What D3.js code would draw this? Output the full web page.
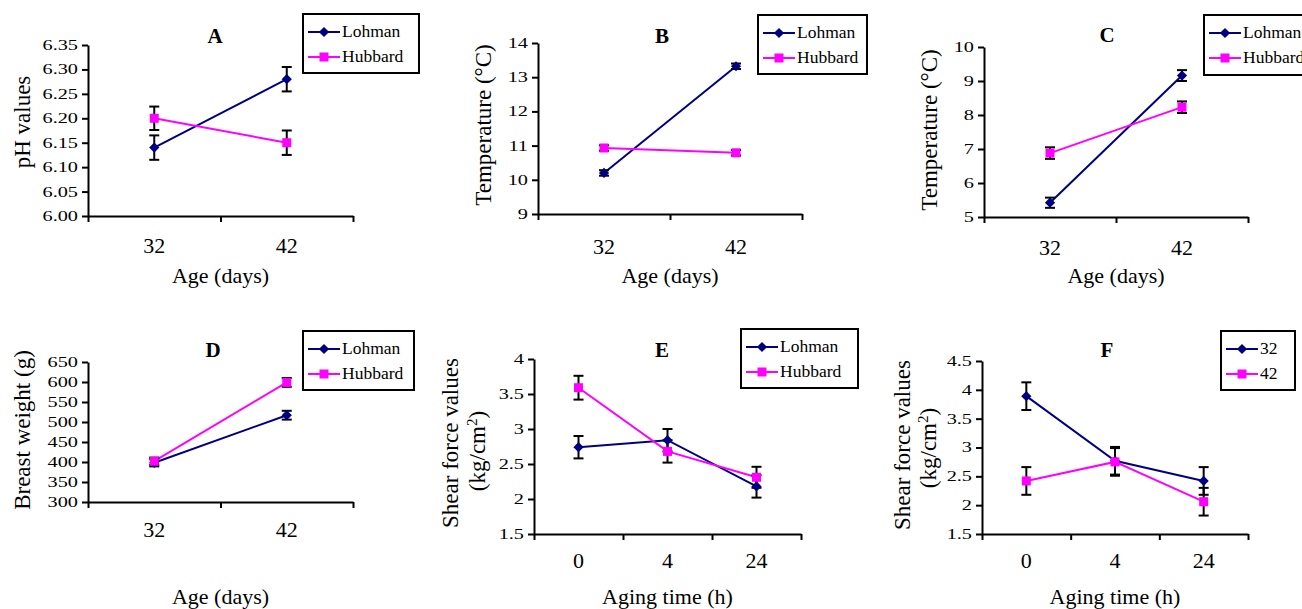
<!DOCTYPE html>
<html>
<head>
<meta charset="utf-8">
<script src="https://d3js.org/d3.v7.min.js"></script>
<style>
  body { margin: 0; background: #fff; }
  svg text { font-family: "Liberation Serif", "Times New Roman", serif; fill: #000; }
</style>
</head>
<body>
<svg id="chart" width="1302" height="609"></svg>
<script>
// categories
var ageDays = ["32", "42"];
var agingHours = ["0", "4", "24"];

// A: pH values
var phTicks = [6.00, 6.05, 6.10, 6.15, 6.20, 6.25, 6.30, 6.35];
var phLohman = [6.14, 6.28];
var phLohmanErr = [0.025, 0.025];
var phHubbard = [6.20, 6.15];
var phHubbardErr = [0.024, 0.025];

// B: temperature
var tempBTicks = [9, 10, 11, 12, 13, 14];
var tempBLohman = [10.20, 13.32];
var tempBLohmanErr = [0.08, 0.08];
var tempBHubbard = [10.93, 10.79];
var tempBHubbardErr = [0.08, 0.08];

// C: temperature
var tempCTicks = [5, 6, 7, 8, 9, 10];
var tempCLohman = [5.42, 9.16];
var tempCLohmanErr = [0.15, 0.16];
var tempCHubbard = [6.88, 8.23];
var tempCHubbardErr = [0.17, 0.17];

// D: breast weight
var weightTicks = [300, 350, 400, 450, 500, 550, 600, 650];
var weightLohman = [398, 517];
var weightLohmanErr = [9, 11];
var weightHubbard = [402, 599];
var weightHubbardErr = [9, 11];

// E: shear force by strain
var shearTicks = [1.5, 2, 2.5, 3, 3.5, 4];
var shearLohman = [2.74, 2.84, 2.18];
var shearLohmanErr = [0.16, 0.16, 0.16];
var shearHubbard = [3.59, 2.68, 2.31];
var shearHubbardErr = [0.17, 0.16, 0.15];

// F: shear force by age
var shearAgeTicks = [1.5, 2, 2.5, 3, 3.5, 4, 4.5];
var shear32 = [3.89, 2.77, 2.42];
var shear32Err = [0.24, 0.24, 0.24];
var shear42 = [2.42, 2.75, 2.06];
var shear42Err = [0.24, 0.24, 0.24];

var NAVY = "#000080";
var MAGENTA = "#ff00ff";
var Y_STRETCH = 1.45;   // tick labels on the value axis are wider than tall

var fmtNum = function (d) { return String(+d.toFixed(2)); };

function pair(nameA, valA, errA, nameB, valB, errB) {
    return [
        { name: nameA, values: valA, errors: errA, color: NAVY, marker: "diamond" },
        { name: nameB, values: valB, errors: errB, color: MAGENTA, marker: "square" }
    ];
}

var panels = [
    { title: "A", cats: ageDays, yTicks: phTicks, yFmt: d3.format(".2f"),
      yLabel: ["pH values"], xLabel: "Age (days)",
      series: pair("Lohman", phLohman, phLohmanErr, "Hubbard", phHubbard, phHubbardErr),
      box: { x0: 88, x1: 353, y0: 45, y1: 216 }, legend: { x: 303, y: 14, w: 116, h: 59 },
      titleAt: [215, 43], xTickY: 37, xTitleY: 283, yLabelAt: [[30, 122]] },
    { title: "B", cats: ageDays, yTicks: tempBTicks, yFmt: fmtNum,
      yLabel: ["Temperature (°C)"], xLabel: "Age (days)",
      series: pair("Lohman", tempBLohman, tempBLohmanErr, "Hubbard", tempBHubbard, tempBHubbardErr),
      box: { x0: 538, x1: 802, y0: 43, y1: 214 }, legend: { x: 758, y: 15, w: 109, h: 59 },
      titleAt: [662, 43], xTickY: 40, xTitleY: 283, yLabelAt: [[491, 125]] },
    { title: "C", cats: ageDays, yTicks: tempCTicks, yFmt: fmtNum,
      yLabel: ["Temperature (°C)"], xLabel: "Age (days)",
      series: pair("Lohman", tempCLohman, tempCLohmanErr, "Hubbard", tempCHubbard, tempCHubbardErr),
      box: { x0: 984, x1: 1248, y0: 47, y1: 217 }, legend: { x: 1204, y: 15, w: 120, h: 60 },
      titleAt: [1107, 42], xTickY: 38, xTitleY: 283, yLabelAt: [[937, 130]] },
    { title: "D", cats: ageDays, yTicks: weightTicks, yFmt: fmtNum,
      yLabel: ["Breast weight (g)"], xLabel: "Age (days)",
      series: pair("Lohman", weightLohman, weightLohmanErr, "Hubbard", weightHubbard, weightHubbardErr),
      box: { x0: 88, x1: 353, y0: 362, y1: 502 }, legend: { x: 303, y: 331, w: 111, h: 59 },
      titleAt: [213, 357], xTickY: 35, xTitleY: 604, yLabelAt: [[30, 430]] },
    { title: "E", cats: agingHours, yTicks: shearTicks, yFmt: fmtNum,
      yLabel: ["Shear force values", "(kg/cm²)"], xLabel: "Aging time (h)",
      series: pair("Lohman", shearLohman, shearLohmanErr, "Hubbard", shearHubbard, shearHubbardErr),
      box: { x0: 534, x1: 801, y0: 359, y1: 534 }, legend: { x: 741, y: 329, w: 117, h: 59 },
      titleAt: [662, 357], xTickY: 34, xTitleY: 604, yLabelAt: [[458, 443], [485, 451]] },
    { title: "F", cats: agingHours, yTicks: shearAgeTicks, yFmt: fmtNum,
      yLabel: ["Shear force values", "(kg/cm²)"], xLabel: "Aging time (h)",
      series: pair("32", shear32, shear32Err, "42", shear42, shear42Err),
      box: { x0: 982, x1: 1248, y0: 361, y1: 534 }, legend: { x: 1221, y: 331, w: 74, h: 59 },
      titleAt: [1107, 357], xTickY: 34, xTitleY: 604, yLabelAt: [[910, 445], [936, 448]] }
];

var svg = d3.select("#chart");

function drawMarker(sel, kind, color) {
    if (kind === "diamond") {
        sel.append("path")
            .attr("d", d3.symbol(d3.symbolSquare, 52)())
            .attr("transform", "rotate(45)")
            .attr("fill", color);
    } else {
        sel.append("path")
            .attr("d", d3.symbol(d3.symbolSquare, 81)())
            .attr("fill", color);
    }
}

function labelText(sel, text) {
    // split a trailing superscript "²" into a raised tspan
    var i = text.indexOf("²");
    if (i < 0) { sel.text(text); return; }
    sel.append("tspan").text(text.slice(0, i));
    sel.append("tspan").text("2").attr("font-size", "15px").attr("dy", "-8");
    sel.append("tspan").text(text.slice(i + 1)).attr("dy", "8");
}

function drawPanel(p) {
    var g = svg.append("g");
    var b = p.box;

    var x = d3.scaleBand().domain(p.cats).range([b.x0, b.x1]);
    var xEdge = d3.scaleLinear().domain([0, p.cats.length]).range([b.x0, b.x1]);
    var y = d3.scaleLinear()
        .domain([p.yTicks[0], p.yTicks[p.yTicks.length - 1]])
        .range([b.y1, b.y0]);
    var cx = function (i) { return x(p.cats[i]) + x.bandwidth() / 2; };

    // value axis
    var yAxis = g.append("g")
        .attr("transform", "translate(" + b.x0 + ",0)")
        .call(d3.axisLeft(y).tickValues(p.yTicks).tickFormat(p.yFmt).tickSize(6).tickSizeOuter(0));
    yAxis.selectAll("text")
        .attr("x", -10 / Y_STRETCH)
        .attr("transform", "scale(" + Y_STRETCH + ",1)")
        .style("font-size", "14px");

    // category axis: ticks on the band edges, labels in the middle
    var xAxis = g.append("g")
        .attr("transform", "translate(0," + b.y1 + ")")
        .call(d3.axisBottom(xEdge).tickValues(d3.range(p.cats.length + 1))
            .tickFormat("").tickSize(6).tickSizeOuter(0));
    var xLabels = g.append("g")
        .attr("transform", "translate(0," + b.y1 + ")")
        .call(d3.axisBottom(x).tickSize(0));
    xLabels.select(".domain").remove();
    xLabels.selectAll("text").attr("y", p.xTickY).attr("dy", null).style("font-size", "22px");

    [yAxis, xAxis].forEach(function (a) {
        a.select(".domain").attr("stroke-width", 2);
        a.selectAll(".tick line").attr("stroke-width", 2);
    });

    // series lines
    var line = d3.line().x(function (d, i) { return cx(i); }).y(function (d) { return y(d); });
    p.series.forEach(function (s) {
        g.append("path").attr("d", line(s.values))
            .attr("fill", "none").attr("stroke", s.color).attr("stroke-width", 2);
    });

    // error bars
    p.series.forEach(function (s) {
        s.values.forEach(function (v, i) {
            var top = y(v + s.errors[i]), bot = y(v - s.errors[i]), px = cx(i);
            var eb = g.append("g").attr("stroke", "#000").attr("stroke-width", 2).attr("fill", "none");
            eb.append("line").attr("x1", px).attr("x2", px).attr("y1", top).attr("y2", bot);
            eb.append("line").attr("x1", px - 5).attr("x2", px + 5).attr("y1", top).attr("y2", top);
            eb.append("line").attr("x1", px - 5).attr("x2", px + 5).attr("y1", bot).attr("y2", bot);
        });
    });

    // markers
    p.series.forEach(function (s) {
        s.values.forEach(function (v, i) {
            var m = g.append("g").attr("transform", "translate(" + cx(i) + "," + y(v) + ")");
            drawMarker(m, s.marker, s.color);
        });
    });

    // panel letter
    g.append("text").attr("x", p.titleAt[0]).attr("y", p.titleAt[1])
        .attr("text-anchor", "middle").style("font-size", "21px").style("font-weight", "bold")
        .text(p.title);

    // axis titles
    g.append("text").attr("x", (b.x0 + b.x1) / 2).attr("y", p.xTitleY)
        .attr("text-anchor", "middle").style("font-size", "22px")
        .text(p.xLabel);
    p.yLabel.forEach(function (t, i) {
        var at = p.yLabelAt[i];
        var yt = g.append("text")
            .attr("transform", "translate(" + at[0] + "," + at[1] + ") rotate(-90)")
            .attr("text-anchor", "middle").style("font-size", "23px");
        labelText(yt, t);
    });

    // legend
    var L = p.legend;
    var lg = g.append("g").attr("transform", "translate(" + L.x + "," + L.y + ")");
    lg.append("rect").attr("width", L.w).attr("height", L.h)
        .attr("fill", "#fff").attr("stroke", "#000").attr("stroke-width", 2);
    p.series.forEach(function (s, i) {
        var ry = 18 + i * 25;
        lg.append("line").attr("x1", 5).attr("x2", 37).attr("y1", ry).attr("y2", ry)
            .attr("stroke", s.color).attr("stroke-width", 2);
        var m = lg.append("g").attr("transform", "translate(21," + ry + ")");
        drawMarker(m, s.marker, s.color);
        lg.append("text").attr("x", 39).attr("y", ry + 5).style("font-size", "17.5px").text(s.name);
    });
}

panels.forEach(drawPanel);
</script>
</body>
</html>
